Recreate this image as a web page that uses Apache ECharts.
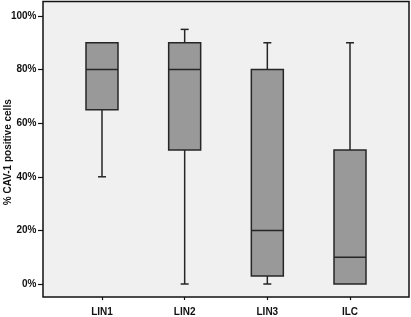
<!DOCTYPE html>
<html>
<head>
<meta charset="utf-8">
<script src="https://cdn.jsdelivr.net/npm/echarts@6/dist/echarts.min.js"></script>
<style>html,body{margin:0;padding:0;background:#fff}#c{width:411px;height:317px}</style>
</head>
<body>
<div id="c"></div>
<script>
var categories = ['LIN1', 'LIN2', 'LIN3', 'ILC'];
var mins    = [40, 0, 0, 0];
var q1s     = [65, 50, 3, 0];
var medians = [80, 80, 20, 10];
var q3s     = [90, 90, 80, 50];
var maxs    = [90, 95, 90, 90];
var yTicks  = [0, 20, 40, 60, 80, 100];
var xTicks  = [0, 1, 2, 3];

var data = categories.map(function (c, i) {
  return [i, mins[i], q1s[i], medians[i], q3s[i], maxs[i]];
});

var FONT = 'Liberation Sans, Arial, sans-serif';
var LINE = '#262626';

var chart = echarts.init(document.getElementById('c'), null, {renderer: 'canvas'});
chart.setOption({
  backgroundColor: '#ffffff',
  animation: false,
  grid: {left: 43, top: 1.5, right: 2, bottom: 20, show: true, backgroundColor: '#f0f0f0',
         borderColor: '#111', borderWidth: 1.5, containLabel: false, outerBoundsMode: 'none'},
  xAxis: {type: 'value', min: -0.7137, max: 3.7137, position: 'bottom',
    axisLine: {show: false, onZero: false},
    axisTick: {show: true, customValues: xTicks, length: 3, lineStyle: {color: '#111', width: 1.2}},
    axisLabel: {show: true, customValues: xTicks, color: '#111', fontFamily: FONT, fontWeight: 'bold',
                fontSize: 10, margin: 10,
                formatter: function (v) { return categories[Math.round(v)]; }},
    splitLine: {show: false}},
  yAxis: {type: 'value', min: -4.85, max: 105.4, position: 'left',
    name: '% CAV-1 positive cells', nameLocation: 'middle', nameRotate: 90, nameGap: 30,
    nameMoveOverlap: false,
    nameTextStyle: {color: '#111', fontFamily: FONT, fontWeight: 'bold', fontSize: 10, padding: [0, 6, 0, 0]},
    axisLine: {show: false, onZero: false},
    axisTick: {show: true, customValues: yTicks, length: 5, lineStyle: {color: '#111', width: 1.2}},
    axisLabel: {show: true, customValues: yTicks, color: '#111', fontFamily: FONT, fontWeight: 'bold',
                fontSize: 10, margin: 6.5, formatter: function (v) { return v + '%'; }},
    splitLine: {show: false}},
  series: [{
    type: 'custom',
    data: data,
    encode: {x: 0, y: [1, 2, 3, 4, 5]},
    renderItem: function (params, api) {
      var i = api.value(0);
      var pMin = api.coord([i, api.value(1)]);
      var pQ1 = api.coord([i, api.value(2)]);
      var pMed = api.coord([i, api.value(3)]);
      var pQ3 = api.coord([i, api.value(4)]);
      var pMax = api.coord([i, api.value(5)]);
      var cx = pMed[0];
      var hw = 16, cw = 4;
      var ls = {stroke: LINE, lineWidth: 1.5, fill: null};
      var children = [];
      if (api.value(5) > api.value(4)) {
        children.push({type: 'line', shape: {x1: cx, y1: pMax[1], x2: cx, y2: pQ3[1]}, style: ls});
        children.push({type: 'line', shape: {x1: cx - cw, y1: pMax[1], x2: cx + cw, y2: pMax[1]}, style: ls});
      }
      if (api.value(1) < api.value(2)) {
        children.push({type: 'line', shape: {x1: cx, y1: pQ1[1], x2: cx, y2: pMin[1]}, style: ls});
        children.push({type: 'line', shape: {x1: cx - cw, y1: pMin[1], x2: cx + cw, y2: pMin[1]}, style: ls});
      }
      children.push({type: 'rect', shape: {x: cx - hw, y: pQ3[1], width: 2 * hw, height: pQ1[1] - pQ3[1]},
        style: {fill: '#999999', stroke: LINE, lineWidth: 1.5}});
      children.push({type: 'line', shape: {x1: cx - hw, y1: pMed[1], x2: cx + hw, y2: pMed[1]}, style: ls});
      return {type: 'group', children: children};
    }
  }]
});
</script>
</body>
</html>
